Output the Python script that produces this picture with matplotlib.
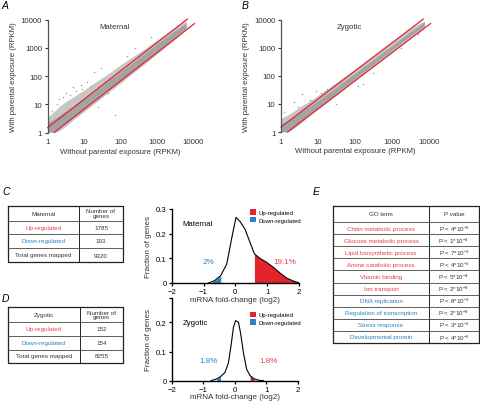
import numpy as np
import matplotlib
matplotlib.use("Agg")
from matplotlib import pyplot as plt

plt.rcParams['font.family'] = ['Liberation Sans', 'DejaVu Sans']
plt.rcParams['mathtext.fontset'] = 'custom'
plt.rcParams['mathtext.rm'] = 'Liberation Sans'

RED = '#e3242b'
RED_TXT = '#e8404f'
BLUE = '#2a86c4'
GREY = '#a3a3a3'
LIGHT = '#c6c6c6'
TXT = '#333333'

# ---- A: maternal scatter (envelope of the gene cloud, RPKM) ----
mat_x = [1, 1.5, 2, 3, 5, 10, 20, 50, 100, 200, 500, 1000, 2000, 4000, 6500]
mat_outer_hi = [3.5, 5.5, 8, 12, 18, 32, 60, 130, 250, 450, 1000, 1900, 3500, 6500, 9000]
mat_outer_lo = [1, 1, 1.1, 1.6, 2.8, 5.5, 11, 28, 55, 115, 290, 600, 1250, 2600, 4700]
mat_core_hi = [2.2, 3.0, 3.8, 5.5, 8.5, 16, 30, 72, 140, 275, 680, 1350, 2650, 5000, 7500]
mat_core_lo = [1, 1.1, 1.4, 2.1, 3.6, 7, 14, 36, 72, 145, 370, 760, 1520, 3100, 5300]
mat_out_x = [70, 19, 3.2, 5, 8, 2, 1.3, 12, 30, 6, 250, 25, 45, 700, 150, 1.8, 4, 16, 2.6, 9]
mat_out_y = [4.3, 140, 25, 40, 50, 15, 6, 60, 200, 30, 1000, 8, 25, 2500, 500, 10, 22, 45, 18, 35]

# ---- B: zygotic scatter ----
zyg_x = [1, 1.5, 2, 3, 5, 10, 20, 50, 100, 200, 500, 1000, 2000, 4000, 7500]
zyg_outer_hi = [3, 4, 5, 7.5, 11, 20, 38, 90, 170, 330, 800, 1600, 3100, 6000, 9000]
zyg_outer_lo = [1, 1, 1.2, 1.8, 3.2, 6.5, 13, 34, 68, 140, 350, 720, 1450, 2900, 5000]
zyg_core_hi = [1.9, 2.6, 3.3, 4.6, 7.3, 13.5, 26, 63, 124, 245, 605, 1200, 2380, 4700, 8200]
zyg_core_lo = [1, 1.1, 1.5, 2.2, 3.9, 7.6, 15.5, 40, 80, 162, 410, 830, 1680, 3400, 6000]
zyg_out_x = [3.8, 18, 15, 2.2, 9, 1.2, 166, 300, 30, 1800, 12, 2.8, 6, 120, 5000]
zyg_out_y = [22, 35, 30, 12, 28, 5, 50, 130, 10, 1000, 25, 8, 14, 45, 3000]

# red fold-change lines (start, end)
up_line_x = [1, 7000]
up_line_y = [1.5, 10500]
dn_line_x = [1.5, 11000]
dn_line_y = [1, 7300]

# ---- C / D: fold-change distributions ----
mat_fc = [-0.85, -0.71, -0.64, -0.46, -0.27, -0.12, 0.02, 0.15, 0.30, 0.46, 0.60,
          0.77, 0.98, 1.19, 1.40, 1.61, 1.82, 2.0]
mat_frac = [0.0, 0.006, 0.011, 0.03, 0.077, 0.178, 0.266, 0.249, 0.219, 0.165, 0.118,
            0.10, 0.084, 0.064, 0.041, 0.020, 0.008, 0.001]
mat_down = (-0.71, -0.46)
mat_up = (0.60, 2.0)
mat_pct = ['2%', '19.1%']

zyg_fc = [-0.75, -0.57, -0.45, -0.31, -0.2, -0.12, -0.04, 0.03, 0.12, 0.19, 0.28,
          0.38, 0.49, 0.62, 0.75, 0.91]
zyg_frac = [0.0, 0.006, 0.014, 0.028, 0.061, 0.117, 0.183, 0.206, 0.2, 0.161, 0.094,
            0.039, 0.017, 0.006, 0.002, 0.0]
zyg_down = (-0.57, -0.45)
zyg_up = (0.49, 0.62)
zyg_pct = ['1.8%', '1.8%']

# ---- tables ----
mat_table = [['Maternal', 'Number of\ngenes'], ['Up-regulated', '1785'],
             ['Down-regulated', '193'], ['Total genes mapped', '9320']]
zyg_table = [['Zygotic', 'Number of\ngenes'], ['Up-regulated', '152'],
             ['Down-regulated', '154'], ['Total genes mapped', '8255']]
row_colors = [TXT, RED_TXT, BLUE, TXT]

go_terms = ['Chitin metabolic process', 'Glucose metabolic process',
            'Lipid biosynthetic process', 'Amine catabolic process',
            'Vitamin binding', 'Ion transport', 'DNA replication',
            'Regulation of transcription', 'Stress response', 'Developmental protein']
go_p = ['P < 4*10$^{-5}$', 'P < 1*10$^{-4}$', 'P < 7*10$^{-3}$', 'P < 4*10$^{-3}$',
        'P < 5*10$^{-4}$', 'P < 2*10$^{-8}$', 'P < 8*10$^{-3}$', 'P < 2*10$^{-8}$',
        'P < 3*10$^{-2}$', 'P < 4*10$^{-5}$']
go_up = [True, True, True, True, True, True, False, False, False, False]

W, H = 480, 402
fig = plt.figure(figsize=(W / 100, H / 100), dpi=100)

# overlay in pixel coordinates for tables and letters
ov = fig.add_axes([0, 0, 1, 1])
ov.set_xlim(0, W)
ov.set_ylim(H, 0)
ov.axis('off')


def px_axes(x0, y0, x1, y1):
    ax = fig.add_axes([x0 / W, 1 - y1 / H, (x1 - x0) / W, (y1 - y0) / H])
    ax.patch.set_visible(False)
    return ax


def draw_scatter(ax, x, ohi, olo, chi, clo, ox, oy, title):
    ax.set_xscale('log')
    ax.set_yscale('log')
    ax.fill_between(x, olo, ohi, color=LIGHT, lw=0)
    ax.fill_between(x, clo, chi, color=GREY, lw=0)
    ax.scatter(ox, oy, s=1.2, color=GREY, lw=0)
    ax.plot(up_line_x, up_line_y, color=RED, lw=0.9, clip_on=False)
    ax.plot(dn_line_x, dn_line_y, color=RED, lw=0.9, clip_on=False)
    ax.set_xlim(1, 10000)
    ax.set_ylim(1, 10000)
    ticks = [1, 10, 100, 1000, 10000]
    ax.set_xticks(ticks, [str(t) for t in ticks])
    ax.set_yticks(ticks, [str(t) for t in ticks])
    ax.minorticks_off()
    for s in ['top', 'right', 'bottom']:
        ax.spines[s].set_visible(False)
    ax.spines['left'].set_color('#555555')
    ax.spines['left'].set_linewidth(0.9)
    ax.tick_params(axis='x', length=0, labelsize=5.6, colors=TXT, pad=4)
    ax.tick_params(axis='y', length=2.5, width=0.8, labelsize=5.6, colors=TXT,
                   pad=1.5)
    ax.set_xlabel('Without parental exposure (RPKM)', fontsize=5.6, color=TXT,
                  labelpad=2)
    ax.set_ylabel('With parental exposure (RPKM)', fontsize=5.6, color=TXT,
                  labelpad=3)
    ax.text(0.46, 0.975, title, transform=ax.transAxes, fontsize=5.6,
            color=TXT, ha='center', va='top')


axA = px_axes(47.7, 20.7, 193, 133.5)
draw_scatter(axA, mat_x, mat_outer_hi, mat_outer_lo, mat_core_hi, mat_core_lo,
             mat_out_x, mat_out_y, 'Maternal')
axB = px_axes(281, 20.7, 429, 133)
draw_scatter(axB, zyg_x, zyg_outer_hi, zyg_outer_lo, zyg_core_hi, zyg_core_lo,
             zyg_out_x, zyg_out_y, 'Zygotic')


def draw_dist(ax, fc, frac, down, up, pct, pct_x, title, ytop, yticks, pct_y,
              title_y, leg_y):
    fc = np.array(fc)
    frac = np.array(frac)
    ax.fill_between(fc, 0, frac, where=(fc >= up[0]) & (fc <= up[1]),
                    color=RED, lw=0, label='Up-regulated')
    ax.fill_between(fc, 0, frac, where=(fc >= down[0]) & (fc <= down[1]),
                    color=BLUE, lw=0, label='Down-regulated')
    ax.plot(fc, frac, color='black', lw=0.8)
    ax.set_xlim(-2, 2)
    ax.set_ylim(0, ytop)
    ax.set_xticks([-2, -1, 0, 1, 2], ['\u22122', '\u22121', '0', '1', '2'])
    ax.set_yticks(yticks, [('%g' % t) if t in (0, 0.1, 0.2, 0.3) else '' for t in yticks])
    for s in ['top', 'right']:
        ax.spines[s].set_visible(False)
    for s in ['left', 'bottom']:
        ax.spines[s].set_linewidth(1.0)
    ax.tick_params(length=2.5, width=0.9, labelsize=5.6, colors='black', pad=1)
    ax.set_xlabel('mRNA fold-change (log2)', fontsize=5.8, color=TXT, labelpad=0.5)
    ax.set_ylabel('Fraction of genes', fontsize=5.8, color=TXT, labelpad=3)
    ax.text(-1.65, title_y, title, fontsize=5.6, color='black', va='center')
    ax.text(pct_x[0], pct_y, pct[0], fontsize=5.8, color=BLUE, ha='center',
            va='center')
    ax.text(pct_x[1], pct_y, pct[1], fontsize=5.8, color=RED_TXT, ha='center',
            va='center')
    ax.legend(loc='upper left', bbox_to_anchor=(0.6, leg_y), fontsize=4.3,
              frameon=False, handlelength=1.0, handleheight=1.0,
              handletextpad=0.4, labelspacing=0.35, borderaxespad=0)


axC = px_axes(171.7, 210, 299, 284)
draw_dist(axC, mat_fc, mat_frac, mat_down, mat_up, mat_pct, (-0.84, 1.56),
          'Maternal', 0.3, [0, 0.1, 0.2, 0.3], 0.088, 0.24, 1.03)
axD = px_axes(171.7, 298.5, 297.7, 381.7)
draw_dist(axD, zyg_fc, zyg_frac, zyg_down, zyg_up, zyg_pct, (-0.84, 1.09),
          'Zygotic', 0.285, [0, 0.1, 0.2, 0.285], 0.069, 0.2, 0.86)


def draw_table(x0, x1, xs, rows_y, cells, colors, fs=4.5):
    y0, y1 = rows_y[0], rows_y[-1]
    ov.plot([x0, x1, x1, x0, x0], [y0, y0, y1, y1, y0], color='#222222', lw=0.9)
    ov.plot([xs, xs], [y0, y1], color='#222222', lw=0.7)
    for y in rows_y[1:-1]:
        ov.plot([x0, x1], [y, y], color='#444444', lw=0.6)
    for i, (a, b) in enumerate(cells):
        yc = (rows_y[i] + rows_y[i + 1]) / 2
        ov.text((x0 + xs) / 2, yc, a, fontsize=fs, color=colors[i],
                ha='center', va='center')
        ov.text((xs + x1) / 2, yc, b, fontsize=fs, color=TXT, ha='center',
                va='center', linespacing=0.95)


draw_table(8, 123, 79, [207, 221.5, 235, 249, 263], mat_table, row_colors)
draw_table(8, 123, 80, [308, 323, 337, 350.5, 363.5], zyg_table, row_colors)

go_rows = [207, 223] + [223 + 12.1 * (i + 1) for i in range(len(go_terms))]
go_cells = [['GO term', 'P value']] + [[t, p] for t, p in zip(go_terms, go_p)]
go_colors = [TXT] + [RED_TXT if u else BLUE for u in go_up]
draw_table(333, 479, 429, go_rows, go_cells, go_colors)

for letter, x, y in [('A', 2, 1), ('B', 242, 1), ('C', 2, 187), ('D', 2, 294),
                     ('E', 313, 187)]:
    ov.text(x, y, letter, fontsize=7.5, style='italic', color='black',
            ha='left', va='top')

fig.savefig('out.png', dpi=100)
